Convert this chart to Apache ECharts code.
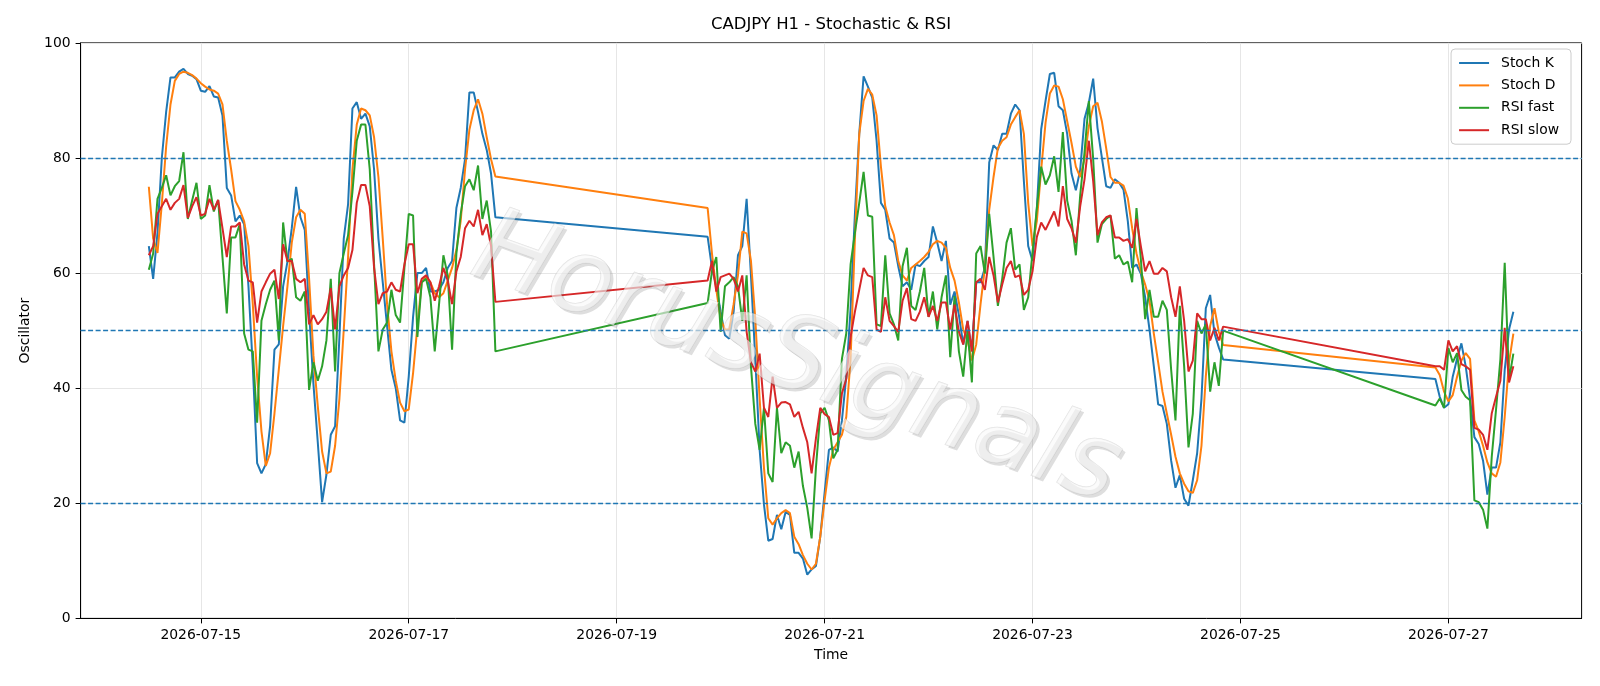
<!DOCTYPE html>
<html>
<head>
<meta charset="utf-8">
<title>CADJPY H1 - Stochastic & RSI</title>
<script src="https://cdn.jsdelivr.net/npm/echarts@6.0.0/dist/echarts.min.js"></script>
<style>
  html, body { margin: 0; padding: 0; background: #fff; }
  #chart { width: 1600px; height: 686px; }
</style>
</head>
<body>
<div id="chart"></div>
<script>
// hourly bars, three trading blocks (weekend / gap between them)
var segStarts = [Date.UTC(2026, 6, 14, 12), Date.UTC(2026, 6, 19, 21), Date.UTC(2026, 6, 26, 21)];
var segLengths = [81, 120, 19];

var stochK = [
  // block 1
  64.7, 59, 67, 80, 88, 94, 94, 95, 95.5, 94.6,
  94.3, 93.7, 91.7, 91.5, 92.5, 90.7, 90.5, 87.4, 74.8, 73.5,
  69, 70, 68.5, 57.7, 43.8, 27, 25.2, 26.8, 33.4, 46.7,
  47.6, 57.7, 62, 67.8, 75, 69.7, 67.5, 53.3, 40.7, 30.6,
  20.2, 25, 31.9, 33.4, 48.9, 66, 72, 88.6, 89.7, 86.8,
  87.7, 85.5, 78, 66, 58.4, 50.8, 43.2, 40, 34.4, 34,
  42, 52.4, 60, 60, 60.9, 56.8, 56.8, 57.1, 58.4, 60.9,
  62.1, 71.3, 74.8, 79.8, 91.4, 91.4, 88, 84.2, 81.4, 77.3,
  69.7,
  // block 2
  66.3, 60.9, 57.7, 53.3, 49.2, 48.6, 53.3, 63.1, 64.7, 72.9,
  59.6, 45.1, 29.3, 19.8, 13.5, 13.8, 18, 15.5, 18.5, 18,
  11.4, 11.4, 10.4, 7.6, 8.5, 9.1, 14.2, 21.8, 29.3, 29.7,
  29, 34.4, 42, 53.9, 70.3, 84.2, 94.2, 92.4, 90.5, 83,
  72.2, 71, 66, 65.3, 61.2, 57.7, 58.4, 57.1, 61.5, 61.2,
  62.1, 62.8, 68.1, 65.3, 62.1, 65.6, 54.5, 56.8, 52.7, 47.6,
  51.7, 46.4, 58.4, 58.4, 60.9, 79.2, 82.2, 81.4, 84.2, 84.2,
  87.7, 89.3, 88.3, 76, 64.7, 62.1, 71.3, 85, 89.9, 94.6,
  94.8, 89, 88.3, 84.2, 77.3, 74.4, 77.9, 86.8, 89.6, 93.8,
  85.2, 80.1, 75.1, 74.8, 76.3, 75.7, 74.5, 69, 60.9, 61.5,
  59.9, 55.8, 50.2, 43.8, 37.2, 36.9, 33.8, 27.4, 22.7, 24.9,
  20.8, 19.6, 24, 28.7, 38.2, 53.9, 56.2, 49.5, 47.1, 45,
  // block 3
  41.6, 38.5, 36.6, 37.2, 42, 45.1, 47.8, 43.8, 38.2, 31.5,
  30.3, 27.4, 21.5, 26.2, 26.2, 30.6, 43.2, 50.2, 53.3
];

var stochD = [
  75, 66, 63.5, 72, 82, 89.3, 93.4, 94.6, 95, 94.8,
  94.4, 93.8, 93, 92.4, 91.9, 91.7, 91.2, 89.3, 83, 78,
  72.5, 71, 69, 64.7, 54.6, 42, 32.5, 26.5, 28.7, 35.6,
  43.2, 50.8, 57.7, 65.3, 69.7, 71, 70.3, 59, 45.7, 36.9,
  29, 25.2, 25.5, 30, 38.2, 50.2, 62.8, 78, 85.8, 88.6,
  88.3, 87.4, 83.6, 76.7, 66, 54.6, 46.4, 41.3, 37.5, 36,
  36.3, 42.6, 50.8, 58.4, 59.3, 58.4, 56.5, 55.8, 56.5, 58.7,
  60.9, 64, 69.1, 78, 84.9, 88.3, 90.2, 87.7, 83.6, 79.8,
  76.8,
  71.3, 63.4, 57.1, 52, 50.2, 50.2, 54.6, 59.6, 67.2, 66.9,
  62.1, 52, 38.2, 26.2, 17.4, 16.3, 17.4, 18.3, 18.8, 18.3,
  14.2, 12.9, 11, 9.5, 8.5, 9.5, 14.2, 20.5, 26.2, 29.3,
  30.6, 31.9, 35, 45.1, 66, 84.2, 89.9, 92, 91, 87.4,
  78.5, 71.6, 68.8, 66.6, 62.1, 59.6, 58.7, 60.9, 61.5, 62.1,
  62.8, 63.7, 65, 65.6, 65.3, 64.4, 60.9, 58.7, 54.9, 50.2,
  48.3, 44.8, 47.6, 54.6, 60.9, 71, 76.7, 81.7, 83, 83.6,
  85.8, 87.1, 88.3, 84.2, 72.2, 64.7, 69.1, 78, 86.1, 91.2,
  92.6, 92.4, 90.2, 86.4, 82.6, 78.5, 76.7, 79.8, 85.5, 89,
  89.6, 86.4, 81.7, 76.7, 75.7, 75.7, 75.2, 73, 67.8, 63.4,
  60.3, 58, 55.2, 49.5, 44.5, 39.4, 35.6, 31.9, 28.1, 25.2,
  23.4, 22.1, 21.8, 24, 30, 42, 50.8, 53.9, 49.8, 47.5,
  43.6, 42.3, 39.4, 37.7, 38.8, 42, 44.8, 46.1, 45.1, 34.4,
  32.5, 30, 27.1, 25.2, 24.6, 27.1, 35, 44.5, 49.5
];

var rsiFast = [
  60.6, 63.4, 72.9, 74.8, 77, 73.5, 75.1, 76, 81, 69.4,
  72.6, 75.7, 69.4, 70, 75.3, 70.7, 72.7, 62.8, 53, 66.2,
  66.2, 68.5, 49.5, 46.7, 46.4, 34, 51.7, 54.6, 57.1, 58.7,
  48.3, 68.8, 62, 62.5, 55.8, 55.2, 56.8, 39.7, 44.5, 41.3,
  43.8, 48.3, 59, 42.9, 60, 63.4, 66.6, 74.1, 83, 85.8,
  85.8, 78, 61.5, 46.4, 50.2, 51.4, 57.1, 52.7, 51.4, 60.9,
  70.3, 70, 48.9, 58.4, 59, 55.8, 46.4, 54.6, 63.1, 59.6,
  46.7, 63.4, 70.3, 75.1, 76.3, 74.4, 78.7, 69.4, 72.6, 67.2,
  46.4,
  54.8, 60.3, 62.8, 49.8, 57.7, 58.4, 59.3, 57.7, 51.7, 59.6,
  43.8, 33.8, 29.3, 36.6, 25.2, 23.7, 36.6, 28.7, 30.6, 30,
  26.2, 29, 23, 19.2, 13.9, 26.2, 35.6, 36.6, 34.4, 27.8,
  29.3, 45.1, 49.5, 61.5, 67, 72.2, 77.6, 70, 69.8, 51.1,
  50.8, 63.1, 53, 51.1, 48.3, 61.2, 64.4, 54.3, 53.6, 56.8,
  60.9, 52.4, 56.8, 50.2, 55.8, 59.6, 45.4, 56, 46.4, 42,
  50.2, 41, 63.4, 64.7, 59.9, 70.3, 62.8, 54.3, 59, 65.3,
  67.8, 60.6, 61.5, 53.6, 55.8, 63.7, 71.3, 78.5, 75.4, 77,
  80.3, 74.1, 84.5, 72.6, 69.1, 63.1, 73.5, 81, 89.9, 79.8,
  65.3, 68.5, 69.4, 70, 62.5, 63.1, 61.5, 62, 58.4, 71.3,
  62.5, 52, 57.1, 52.4, 52.4, 55.2, 53.6, 43.2, 34.4, 54.3,
  43.8, 29.7, 35.6, 51.7, 49.5, 51.1, 39.4, 44.5, 40.4, 50,
  37, 38.2, 36.6, 47, 44.5, 46.1, 39.7, 38.5, 37.9, 20.5,
  20.2, 18.9, 15.6, 28, 36.3, 45, 61.8, 41.5, 46
];

var rsiSlow = [
  63.1, 64.7, 70.3, 71.6, 72.9, 71, 72.2, 72.9, 75.3, 69.6,
  71.6, 73.2, 70, 70.3, 72.9, 71, 72.7, 67.8, 62.8, 68.1,
  68.1, 68.8, 61.5, 58.7, 58.4, 51.4, 56.8, 58.4, 59.9, 60.6,
  55.5, 65, 62.1, 62.1, 59, 58.4, 59, 51.1, 52.7, 51.1,
  52, 53.3, 57.4, 50.2, 57.7, 59.6, 60.9, 64, 72.2, 75.3,
  75.3, 71.6, 60.9, 54.6, 56.5, 56.8, 58.4, 57.1, 56.8, 61.5,
  65, 65, 56.5, 59, 59.6, 58.4, 55.2, 57.7, 60.9, 58.7,
  54.6, 60.3, 62.8, 67.8, 69.1, 68.1, 71, 66.6, 68.5, 64.7,
  55,
  58.7, 62.1, 56.8, 59.3, 59.6, 59.9, 59, 56.8, 59.6, 49.8,
  44.5, 42.9, 46, 36.6, 35, 42, 36.6, 37.5, 37.6, 37.2,
  35, 35.9, 33.1, 30.6, 25.2, 31.3, 36.6, 35.5, 35, 31.9,
  32.2, 39.1, 41.6, 48.9, 53.3, 57.1, 60.9, 59.6, 59.3, 50.2,
  49.8, 55.8, 51.7, 50.8, 49.8, 55.2, 57.4, 52, 51.7, 53.3,
  55.8, 52.4, 54.3, 51.7, 54.9, 54.9, 50.2, 54.5, 49.8, 47.6,
  51.7, 46.4, 58.4, 59, 57.1, 62.8, 59.6, 54.9, 58, 60.9,
  62.1, 59.3, 59.6, 56.2, 57.1, 60.3, 66.3, 68.8, 67.5, 69.1,
  70.7, 68.1, 75.1, 69.4, 67.8, 65.3, 71.6, 76.3, 83, 76,
  66.6, 68.8, 69.7, 70, 66.2, 66.2, 65.6, 65.9, 64.4, 69.4,
  64.7, 60.3, 62.1, 59.9, 59.9, 60.9, 60.3, 55.8, 52.4, 57.7,
  51.7, 42.9, 44.8, 53, 52, 52, 48.3, 50.5, 48.3, 50.7,
  43.8, 43.8, 43.2, 48.3, 46.4, 47.3, 44.2, 43.8, 43.2, 33.1,
  32.8, 31.9, 29.3, 35.6, 38.5, 41.3, 50.5, 41, 43.8
];

var tickDays = [
  Date.UTC(2026, 6, 15), Date.UTC(2026, 6, 17), Date.UTC(2026, 6, 19),
  Date.UTC(2026, 6, 21), Date.UTC(2026, 6, 23), Date.UTC(2026, 6, 25),
  Date.UTC(2026, 6, 27)
];
var levels = [20, 50, 80];

// timestamps for every bar
var HOUR = 3600 * 1000;
var times = [];
segStarts.forEach(function (t0, s) {
  for (var k = 0; k < segLengths[s]; k++) times.push(t0 + k * HOUR);
});

function pairs(vals) {
  return vals.map(function (v, i) { return [times[i], v]; });
}

function pad(n) { return n < 10 ? '0' + n : '' + n; }
function dayLabel(ms) {
  var d = new Date(ms);
  return d.getUTCFullYear() + '-' + pad(d.getUTCMonth() + 1) + '-' + pad(d.getUTCDate());
}

// matplotlib style 5% margins on x
var span = times[times.length - 1] - times[0];
var xMin = times[0] - span * 0.05;
var xMax = times[times.length - 1] + span * 0.05;

var FONT = 'DejaVu Sans';
var chart = echarts.init(document.getElementById('chart'), null, { renderer: 'canvas' });

function lineSeries(name, vals, color) {
  return {
    name: name,
    type: 'line',
    data: pairs(vals),
    showSymbol: false,
    symbol: 'none',
    lineStyle: { width: 2, color: color },
    itemStyle: { color: color },
    emphasis: { disabled: true },
    animation: false
  };
}

var series = [
  lineSeries('Stoch K', stochK, '#1f77b4'),
  lineSeries('Stoch D', stochD, '#ff7f0e'),
  lineSeries('RSI fast', rsiFast, '#2ca02c'),
  lineSeries('RSI slow', rsiSlow, '#d62728')
];
// dashed reference levels
series[3].markLine = {
  silent: true,
  symbol: 'none',
  animation: false,
  label: { show: false },
  lineStyle: { color: '#1f77b4', type: [5, 2.5], width: 1.3 },
  data: levels.map(function (v) { return { yAxis: v }; })
};

var option = {
  backgroundColor: '#fff',
  animation: false,
  title: {
    text: 'CADJPY H1 - Stochastic & RSI',
    left: 831,
    textAlign: 'center',
    top: 16,
    padding: 0,
    textStyle: { fontFamily: FONT, fontSize: 16.5, fontWeight: 'normal', color: '#000' }
  },
  legend: {
    orient: 'vertical',
    right: 29,
    top: 49,
    icon: 'rect',
    itemWidth: 30,
    itemHeight: 2,
    itemGap: 8.4,
    padding: [7, 12, 7, 8],
    backgroundColor: 'rgba(255,255,255,0.8)',
    borderColor: '#cccccc',
    borderWidth: 1,
    borderRadius: 4,
    textStyle: { fontFamily: FONT, fontSize: 13.9, color: '#000', lineHeight: 14, padding: [0, 0, 0, 7] },
    data: ['Stoch K', 'Stoch D', 'RSI fast', 'RSI slow']
  },
  grid: {
    left: 80.6, right: 18.4, top: 42.9, bottom: 67.6,
    show: true, borderColor: '#000', borderWidth: 1, backgroundColor: 'transparent'
  },
  xAxis: {
    type: 'value',
    min: xMin,
    max: xMax,
    name: 'Time',
    nameLocation: 'middle',
    nameGap: 30,
    nameTextStyle: { fontFamily: FONT, fontSize: 13.9, color: '#000' },
    axisLine: { lineStyle: { color: '#000', width: 1 } },
    axisTick: { customValues: tickDays, length: 5, lineStyle: { color: '#000' } },
    axisLabel: {
      customValues: tickDays,
      formatter: dayLabel,
      margin: 10,
      fontFamily: FONT, fontSize: 13.9, color: '#000'
    },
    splitLine: { show: true, lineStyle: { color: '#e6e6e6', width: 1 } }
  },
  yAxis: {
    type: 'value',
    min: 0,
    max: 100,
    interval: 20,
    name: 'Oscillator',
    nameLocation: 'middle',
    nameGap: 48,
    nameTextStyle: { fontFamily: FONT, fontSize: 13.9, color: '#000' },
    axisLine: { show: true, lineStyle: { color: '#000', width: 1 } },
    axisTick: { show: true, length: 5, lineStyle: { color: '#000' } },
    axisLabel: { margin: 10, fontFamily: FONT, fontSize: 13.9, color: '#000' },
    splitLine: { show: true, lineStyle: { color: '#e6e6e6', width: 1 } }
  },
  graphic: [
    {
      // watermark shadow
      type: 'text', x: 799, y: 365, rotation: -0.345, z: 100, silent: true,
      style: {
        text: 'HorusSignals',
        font: 'italic 104px "DejaVu Sans"',
        fill: 'rgba(90,90,90,0.2)',
        textAlign: 'center', textVerticalAlign: 'middle',
        align: 'center', verticalAlign: 'middle'
      }
    },
    {
      // watermark face
      type: 'text', x: 796, y: 362, rotation: -0.345, z: 101, silent: true,
      style: {
        text: 'HorusSignals',
        font: 'italic 104px "DejaVu Sans"',
        fill: 'rgba(248,248,248,0.6)',
        stroke: 'rgba(170,170,170,0.35)',
        lineWidth: 1,
        textAlign: 'center', textVerticalAlign: 'middle',
        align: 'center', verticalAlign: 'middle'
      }
    }
  ],
  series: series
};

chart.setOption(option);
</script>
</body>
</html>
